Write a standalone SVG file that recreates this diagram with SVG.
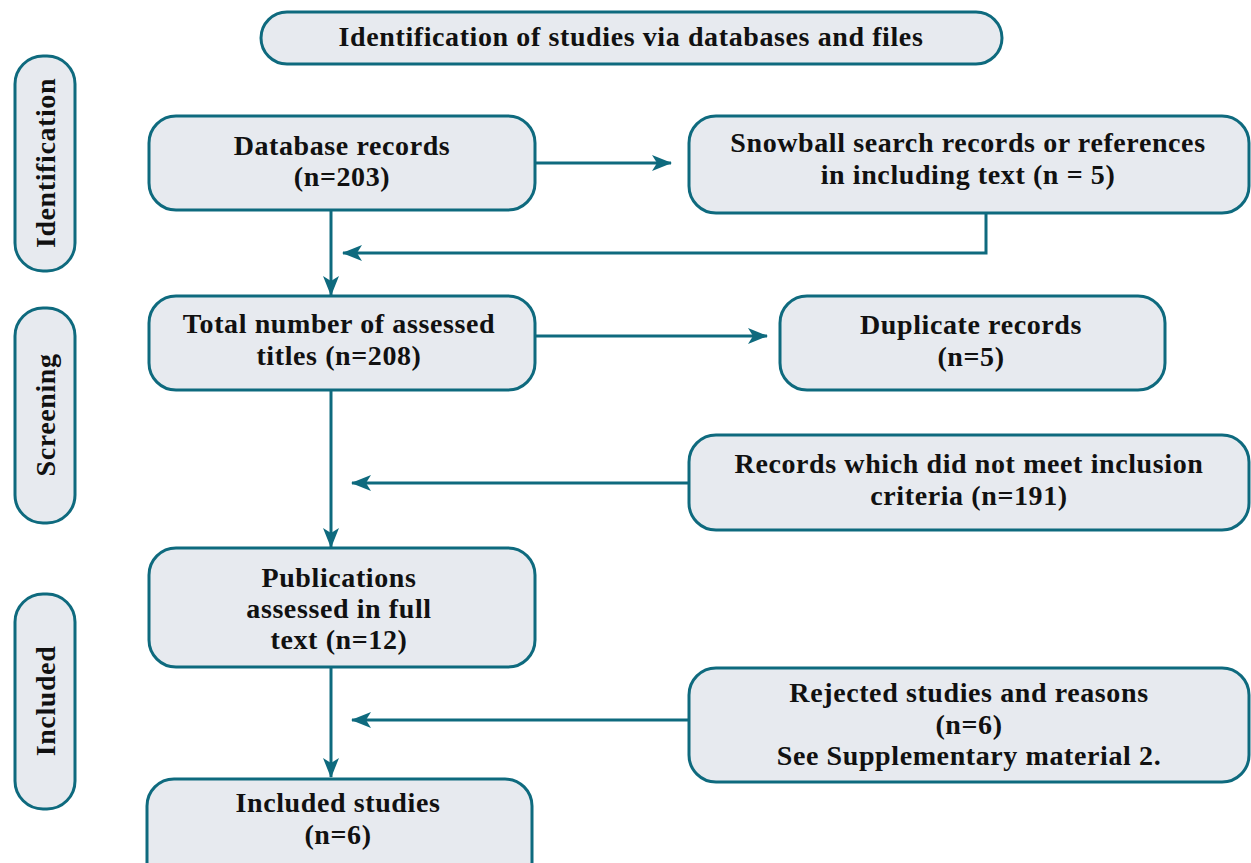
<svg xmlns="http://www.w3.org/2000/svg" width="1251" height="863" viewBox="0 0 1251 863">
<style>
.box{fill:#E7EAEF;stroke:#0E6A7E;stroke-width:3}
.t{font-family:"Liberation Serif",serif;font-weight:bold;font-size:28px;letter-spacing:0.6px;fill:#111;text-anchor:middle}
.c{fill:none;stroke:#0E6A7E;stroke-width:3;marker-end:url(#ah)}
</style>
<defs>
<marker id="ah" viewBox="0 0 20 16" refX="19" refY="8" markerWidth="20" markerHeight="16" markerUnits="userSpaceOnUse" orient="auto">
<path d="M0,0 L20,8 L0,16 L5,8 Z" fill="#0E6A7E"/>
</marker>
</defs>
<g id="connectors">
<path class="c" d="M535,163 H671"/>
<path class="c" d="M986,213 V253 H343"/>
<path class="c" d="M331,210 V295"/>
<path class="c" d="M535,336 H767"/>
<path class="c" d="M331,390 V547"/>
<path class="c" d="M689,483 H352"/>
<path class="c" d="M331,667 V777"/>
<path class="c" d="M689,720 H352"/>
</g>
<g id="header"><rect class="box" x="261" y="12" width="741" height="52" rx="26"/><text class="t" x="631" y="46">Identification of studies via databases and files</text></g>
<g id="phase-identification"><rect class="box" x="15" y="56" width="60" height="215" rx="28"/><text class="t" transform="translate(55,163) rotate(-90)" x="0" y="0">Identification</text></g>
<g id="phase-screening"><rect class="box" x="15" y="308" width="60" height="215" rx="28"/><text class="t" transform="translate(55,415) rotate(-90)" x="0" y="0">Screening</text></g>
<g id="phase-included"><rect class="box" x="15" y="594" width="60" height="215" rx="28"/><text class="t" transform="translate(55,701) rotate(-90)" x="0" y="0">Included</text></g>
<g id="database"><rect class="box" x="149" y="116" width="386" height="94" rx="27"/><text class="t" x="342" y="155">Database records</text><text class="t" x="342" y="186">(n=203)</text></g>
<g id="snowball"><rect class="box" x="689" y="116" width="560" height="97" rx="27"/><text class="t" x="968" y="152">Snowball search records or references</text><text class="t" x="968" y="184">in including text (n = 5)</text></g>
<g id="total"><rect class="box" x="149" y="296" width="386" height="94" rx="27"/><text class="t" x="339" y="333">Total number of assessed</text><text class="t" x="339" y="365">titles (n=208)</text></g>
<g id="duplicate"><rect class="box" x="780" y="296" width="385" height="94" rx="27"/><text class="t" x="971" y="334">Duplicate records</text><text class="t" x="971" y="366">(n=5)</text></g>
<g id="not-meet"><rect class="box" x="689" y="435" width="560" height="95" rx="27"/><text class="t" x="969" y="473">Records which did not meet inclusion</text><text class="t" x="969" y="505">criteria (n=191)</text></g>
<g id="publications"><rect class="box" x="149" y="548" width="386" height="119" rx="27"/><text class="t" x="339" y="587">Publications</text><text class="t" x="339" y="618">assessed in full</text><text class="t" x="339" y="649">text (n=12)</text></g>
<g id="rejected"><rect class="box" x="689" y="668" width="560" height="114" rx="27"/><text class="t" x="969" y="702">Rejected studies and reasons</text><text class="t" x="969" y="734">(n=6)</text><text class="t" x="969" y="765">See Supplementary material 2.</text></g>
<g id="included"><rect class="box" x="147" y="779" width="385" height="110" rx="27"/><text class="t" x="338" y="812">Included studies</text><text class="t" x="338" y="844">(n=6)</text></g>
</svg>
